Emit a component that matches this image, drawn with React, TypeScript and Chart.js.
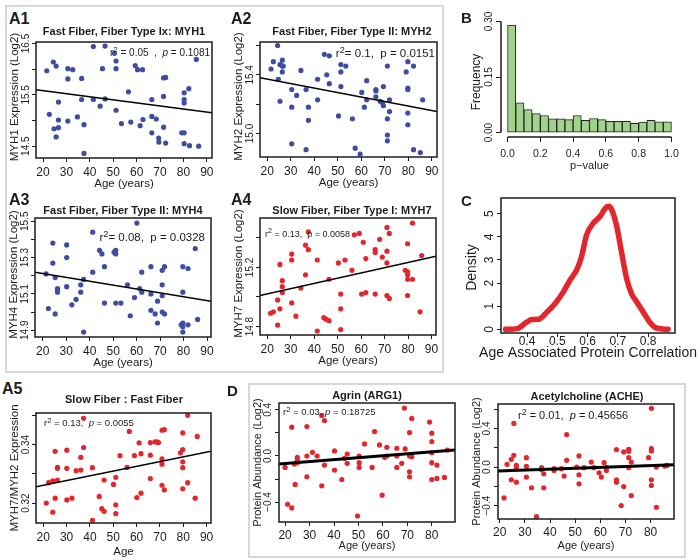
import React, { useEffect, useRef } from 'react';
import { Chart, registerables } from 'chart.js';

Chart.register(...registerables);

const FONT = '"Liberation Sans", Arial, Helvetica, sans-serif';
Chart.defaults.font.family = FONT;
const INK = '#1c1c1c';
const BLUE = '#3d4ea0';
const RED = '#e2262c';
const GREEN = '#a2d38c';

// ---------------- data ----------------
const A_X_TICKS = [20, 30, 40, 50, 60, 70, 80, 90];
const A_X_LABELS = ['20', '30', '40', '50', '60', '70', '80', '90'];
const D_X_TICKS = [20, 30, 40, 50, 60, 70, 80];
const D_X_LABELS = ['20', '30', '40', '50', '60', '70', '80'];

// A1 MYH1
const A1_AGE = [21.6,22.7,24.4,25.6,24.7,25.6,26.6,26.6,26.6,30.6,30.6,32.7,30.6,34.7,36.5,36.5,37.5,37.5,41.5,41.5,44.4,45.4,46.5,46.5,50.5,51.2,51.2,51.2,53.5,56.5,57.5,59.4,60.4,61.5,62.5,62.7,66.5,66.5,66.5,68.4,69.4,69.5,71.5,71.5,71.5,72.4,72.4,79.3,80.3,80.3,80.3,80.3,80.3,82.3,82.6,85.5,86.5];
const A1_MYH1 = [15.97,15.12,16.14,16.06,14.84,14.68,15.36,15.01,14.86,16.01,15.81,15.99,14.99,15.07,15.82,15.41,14.92,14.36,16.44,15.41,15.28,16.01,16.45,15.42,16.31,16.16,16.01,15.20,14.94,15.56,14.97,16.07,15.99,14.90,15.99,15.02,15.41,15.08,14.76,15.03,14.66,14.58,15.83,15.47,14.87,15.84,14.56,14.76,14.76,15.54,15.41,15.34,14.55,15.62,14.51,16.19,14.50];
const A1_FIT_AGE = [17, 92.2];
const A1_FIT = [15.60, 15.15];
const A1_Y_TICKS = [14.5, 15, 15.5, 16, 16.5];
const A1_Y_LABELS = ['14.5', '', '15.5', '', '16.5'];

// A2 MYH2
const A2_AGE = [21.6,22.6,24.4,24.7,25.4,25.4,26.4,26.4,26.4,26.8,30.4,30.4,30.4,32.5,34.3,36.5,36.5,37.5,37.5,41.4,41.4,44.3,45.3,46.4,46.4,50.3,51.3,51.3,51.3,53.4,56.2,57.4,59.5,60.2,61.3,62.3,62.3,66.2,66.2,66.2,68.0,69.0,69.4,69.4,71.1,71.1,71.1,71.1,72.0,72.0,79.1,79.8,79.8,79.8,79.8,79.8,82.2,82.2,85.1,86.1];
const A2_MYH2 = [15.44,15.49,15.60,15.37,15.22,15.47,15.46,15.50,15.42,15.46,15.30,15.18,14.93,15.26,15.43,15.30,14.89,15.18,15.09,15.37,15.23,15.54,15.40,15.53,15.34,15.12,15.47,15.42,15.32,15.46,15.10,14.90,14.86,15.28,15.18,15.23,15.36,15.30,15.29,15.25,15.22,15.21,15.32,15.19,15.46,15.10,14.99,14.95,15.23,15.15,15.42,15.49,15.31,15.30,15.14,15.06,15.46,14.89,14.87,15.23];
const A2_FIT_AGE = [16.9, 92.2];
const A2_FIT = [15.38, 15.15];
const A2_Y_TICKS = [15.0, 15.2, 15.4, 15.6];
const A2_Y_LABELS = ['15.0', '', '15.4', ''];

// A3 MYH4
const A3_AGE = [21.4,22.4,24.3,24.3,25.3,25.3,26.3,26.3,26.3,30.2,30.2,30.2,32.4,34.2,36.2,36.2,37.4,37.4,41.3,41.3,44.2,45.2,46.3,46.3,50.4,51.1,51.1,51.1,53.3,56.1,57.3,59.1,60.1,61.3,62.2,62.2,66.1,66.1,66.1,67.9,68.9,68.9,70.9,70.9,70.9,70.9,71.9,71.9,79.0,79.7,79.7,79.7,79.7,79.7,81.9,81.9,85.0,86.0];
const A3_MYH4 = [15.21,15.02,15.38,15.27,15.19,14.99,15.13,15.12,15.11,15.37,15.30,15.14,15.04,15.07,15.11,15.15,15.18,14.89,15.44,15.22,15.34,15.32,15.25,15.05,15.33,15.34,15.32,15.05,15.05,15.15,14.98,15.08,15.49,15.13,15.22,15.11,15.25,15.10,15.01,14.99,15.06,14.94,15.23,15.15,15.09,15.00,15.25,14.99,14.93,15.25,15.11,14.94,14.92,14.89,15.24,14.93,15.35,14.96];
const A3_FIT_AGE = [16.7, 91.7];
const A3_FIT = [15.22, 15.06];
const A3_Y_TICKS = [14.9, 15.0, 15.1, 15.2, 15.3, 15.4, 15.5];
const A3_Y_LABELS = ['14.9', '', '15.1', '', '15.3', '', '15.5'];

// A4 MYH7
const A4_AGE = [21.4,22.6,24.4,24.4,25.4,25.4,26.4,26.4,26.4,30.4,30.4,30.4,32.2,34.3,36.3,36.3,37.5,37.5,41.3,41.3,44.1,45.0,46.3,46.3,50.3,51.3,51.3,51.3,53.1,56.1,57.1,59.2,60.9,60.2,62.0,62.0,66.0,66.0,66.0,67.9,69.0,71.0,71.0,71.0,71.0,72.0,72.0,78.8,79.8,79.8,79.8,79.8,79.8,81.9,81.9,85.1,85.8];
const A4_MYH7 = [14.89,14.90,14.98,14.81,15.22,14.92,15.11,15.07,15.03,15.29,15.25,14.96,14.87,15.06,15.35,15.15,15.44,15.32,15.25,14.77,14.86,14.85,15.12,14.84,15.23,15.02,14.92,14.78,15.25,15.18,15.42,15.43,15.37,15.02,15.03,15.26,15.32,15.30,15.02,15.39,15.27,15.47,15.31,15.23,15.01,15.43,14.99,15.18,15.17,15.15,15.36,15.12,15.01,15.50,15.12,14.90,15.28];
const A4_FIT_AGE = [16.9, 91.9];
const A4_FIT = [15.01, 15.275];
const A4_Y_TICKS = [14.8, 15.0, 15.2, 15.4];
const A4_Y_LABELS = ['14.8', '', '15.2', ''];

// A5 ratio
const A5_AGE = [21.3,22.3,24.1,24.1,25.1,25.1,26.1,26.1,26.1,30.1,30.1,30.1,32.3,34.1,36.1,36.1,37.3,37.3,41.1,41.1,44.0,45.1,46.1,46.1,50.1,51.1,51.1,51.1,52.9,55.9,56.9,59.1,60.1,61.1,61.9,61.9,65.9,65.9,65.9,67.9,68.9,69.4,70.9,70.9,70.9,70.9,71.9,71.9,78.8,79.8,79.8,79.8,79.8,79.8,81.9,81.9,85.1,86.0];
const A5_RATIO = [0.3200,0.3270,0.3169,0.3276,0.3377,0.3217,0.3279,0.3319,0.3322,0.3381,0.3319,0.3211,0.3217,0.3311,0.3356,0.3313,0.3490,0.3390,0.3321,0.3141,0.3223,0.3181,0.3279,0.3172,0.3264,0.3288,0.3194,0.3164,0.3362,0.3322,0.3445,0.3362,0.3219,0.3406,0.3369,0.3234,0.3407,0.3364,0.3284,0.3409,0.3409,0.3407,0.3449,0.3351,0.3333,0.3261,0.3451,0.3245,0.3372,0.3383,0.3440,0.3341,0.3321,0.3249,0.3500,0.3270,0.3217,0.3428];
const A5_FIT_AGE = [16.9, 91.9];
const A5_FIT = [0.3256, 0.3377];
const A5_Y_TICKS = [0.32, 0.33, 0.34, 0.35];
const A5_Y_LABELS = ['0.32', '', '0.34', ''];

// B histogram of p-values
const P_BIN_MID = [0.025,0.075,0.125,0.175,0.225,0.275,0.325,0.375,0.425,0.475,0.525,0.575,0.625,0.675,0.725,0.775,0.825,0.875,0.925,0.975];
const P_FREQ = [0.290,0.080,0.062,0.051,0.046,0.037,0.037,0.035,0.046,0.033,0.038,0.035,0.030,0.030,0.030,0.025,0.028,0.033,0.029,0.029];
const B_X_TICKS = [0, 0.2, 0.4, 0.6, 0.8, 1.0];
const B_X_LABELS = ['0.0', '0.2', '0.4', '0.6', '0.8', '1.0'];
const B_Y_TICKS = [0, 0.15, 0.30];
const B_Y_LABELS = ['0.00', '0.15', '0.30'];

// C density
const CORR_X = [0.329,0.367,0.400,0.416,0.438,0.466,0.493,0.520,0.542,0.564,0.580,0.597,0.619,0.641,0.658,0.669,0.680,0.696,0.712,0.729,0.745,0.762,0.784,0.805,0.827,0.866];
const CORR_DENSITY = [0,0.03,0.32,0.42,0.43,0.75,1.12,1.62,2.13,2.57,3.14,4.09,4.59,4.88,5.22,5.32,5.17,4.48,3.36,2.20,1.55,1.19,0.75,0.32,0.06,0];
const C_X_TICKS = [0.4, 0.5, 0.6, 0.7, 0.8];
const C_X_LABELS = ['0.4', '0.5', '0.6', '0.7', '0.8'];
const C_Y_TICKS = [0, 1, 2, 3, 4, 5];
const C_Y_LABELS = ['0', '1', '2', '3', '4', '5'];

// D Agrin
const AGRIN_AGE = [20.0,21.0,22.7,22.7,23.8,24.1,25.0,25.0,25.0,28.9,28.9,28.9,31.2,33.1,35.0,35.0,36.1,36.1,40.2,40.2,43.2,44.3,45.4,45.4,49.6,50.3,50.3,50.3,52.5,55.6,56.6,58.6,59.7,60.7,61.6,61.6,65.7,65.7,65.7,67.7,68.8,69.1,70.9,70.9,70.9,70.9,71.8,71.8,79.1,80.0,80.0,80.0,80.0,80.0,82.1,82.1,85.2,86.4];
const AGRIN_ABUND = [-0.099,-0.419,0.250,-0.451,-0.070,-0.247,-0.012,-0.035,-0.058,0.256,0.000,-0.180,0.032,0.000,0.352,-0.259,0.308,-0.079,0.044,-0.122,-0.204,-0.020,0.017,-0.064,-0.521,0.000,-0.058,-0.099,0.105,-0.099,0.212,0.096,-0.340,-0.012,0.076,0.000,0.067,0.000,-0.099,-0.064,0.416,0.061,0.204,0.000,-0.137,-0.180,0.326,-0.006,0.294,0.198,0.125,0.029,-0.058,-0.204,-0.195,-0.079,-0.186,0.052];
const AGRIN_FIT_AGE = [17.5, 89.5];
const AGRIN_FIT = [-0.070, 0.052];
const AGRIN_Y_TICKS = [-0.4, -0.2, 0, 0.2, 0.4];
const AGRIN_Y_LABELS = ['\u22120.4', '', '0.0', '', '0.4'];

// D ACHE
const ACHE_AGE = [21.7,22.9,24.6,24.6,25.6,25.6,26.6,26.6,26.6,30.6,30.6,30.6,32.6,36.6,36.6,37.5,37.5,41.6,41.6,44.5,45.6,46.6,46.6,50.6,51.5,51.5,51.5,53.5,56.4,57.5,59.5,60.4,61.5,62.4,62.4,66.4,66.4,66.4,68.3,69.3,69.3,71.3,71.3,71.3,71.3,72.3,72.3,79.2,80.3,80.3,80.3,80.3,80.3,82.3,82.3,85.6,86.5,34.6];
const ACHE_ABUND = [-0.320,0.028,-0.132,0.080,0.452,0.122,0.017,-0.017,-0.157,0.097,0.007,-0.104,-0.216,-0.007,-0.028,-0.070,-0.216,-0.017,-0.035,-0.017,-0.094,0.337,0.070,0.000,0.115,-0.080,-0.174,-0.007,0.052,-0.007,-0.059,-0.104,0.045,-0.035,-0.007,0.181,-0.132,-0.157,-0.400,0.157,-0.202,0.184,0.163,0.097,-0.007,0.052,-0.296,0.097,0.609,0.191,0.167,-0.132,-0.191,0.000,-0.417,0.010,0.017,-0.515];
const ACHE_FIT_AGE = [19.3, 89.3];
const ACHE_FIT = [-0.042, 0.024];
const ACHE_Y_TICKS = [-0.4, -0.2, 0, 0.2, 0.4, 0.6];
const ACHE_Y_LABELS = ['\u22120.4', '', '0.0', '', '0.4', ''];

// ---------------- layout / style ----------------
const PADL = 45;
const PADT = 15;
const PADB = 42;

type Spec = {
  box: number[];
  xMin: number; xMax: number; yMin: number; yMax: number;
  xTicks: number[]; xLabels: string[]; yTicks: number[]; yLabels: string[];
  xTitle: string; yTitle: string;
  xTickSize: number; yTickSize: number; xTitleSize: number; yTitleSize: number;
  tickLen: number; xPad: number; xTitleDy: number; yTitleDx: number; yTickDx: number; yTitleShift: number;
  boxed: boolean; axisLines: boolean; padR: number;
};

function aSpec(box: number[], xr: number[], yr: number[], yTicks: number[], yLabels: string[], yTitle: string, xTitle: string, over: Partial<Spec> = {}): Spec {
  return {
    box, xMin: xr[0], xMax: xr[1], yMin: yr[0], yMax: yr[1],
    xTicks: A_X_TICKS, xLabels: A_X_LABELS, yTicks, yLabels, xTitle, yTitle,
    xTickSize: 12, yTickSize: 10, xTitleSize: 11.5, yTitleSize: 11.5,
    tickLen: 4, xPad: 3, xTitleDy: 25.5, yTitleDx: 21, yTickDx: 10, yTitleShift: -3,
    boxed: true, axisLines: false, padR: 15,
    ...over,
  };
}

const SPEC_A1 = aSpec([36, 42, 212, 158], [17, 92.2], [14.27, 16.53], A1_Y_TICKS, A1_Y_LABELS, 'MYH1 Expression (Log2)', 'Age (years)');
const SPEC_A2 = aSpec([260, 42, 437, 157], [16.9, 92.2], [14.84, 15.624], A2_Y_TICKS, A2_Y_LABELS, 'MYH2 Expression (Log2)', 'Age (years)');
const SPEC_A3 = aSpec([35, 218, 211, 337], [16.7, 91.7], [14.863, 15.518], A3_Y_TICKS, A3_Y_LABELS, 'MYH4 Expression (Log2)', 'Age (years)');
const SPEC_A4 = aSpec([260, 218, 436, 335], [16.9, 91.9], [14.743, 15.534], A4_Y_TICKS, A4_Y_LABELS, 'MYH7 Expression (Log2)', 'Age (years)');
const SPEC_A5 = aSpec([36, 413, 211, 523], [16.9, 91.9], [0.3132, 0.3508], A5_Y_TICKS, A5_Y_LABELS, 'MYH7/MYH2 Expression', 'Age', { xTitleDy: 29, yTitleShift: 0 });
const SPEC_AGRIN = aSpec([279, 403, 455, 522], [17.5, 89.5], [-0.573, 0.46], AGRIN_Y_TICKS, AGRIN_Y_LABELS, 'Protein Abundance (Log2)', 'Age (years)', { xTicks: D_X_TICKS, xLabels: D_X_LABELS, xPad: 2, xTitleDy: 24, xTitleSize: 11, yTitleSize: 11, yTickDx: 11, yTitleShift: 0 });
const SPEC_ACHE = aSpec([498, 404, 674, 519], [19.3, 89.3], [-0.539, 0.654], ACHE_Y_TICKS, ACHE_Y_LABELS, 'Protein Abundance (Log2)', 'Age (years)', { xTicks: D_X_TICKS, xLabels: D_X_LABELS, xPad: 2, xTitleDy: 27, xTitleSize: 11, yTitleSize: 11, yTickDx: 11, yTitleShift: 0 });
const SPEC_B = aSpec([501, 17, 678, 137], [-0.04, 1.04], [-0.012, 0.312], B_Y_TICKS, B_Y_LABELS, 'Frequency', 'p\u2212value', {
  xTicks: B_X_TICKS, xLabels: B_X_LABELS, xTickSize: 10.5, yTickSize: 10, xTitleSize: 11, yTitleSize: 12,
  tickLen: 5, xPad: 6, xTitleDy: 29, yTitleDx: 24, yTickDx: 12, yTitleShift: 5, boxed: false, axisLines: true,
});
const SPEC_C = aSpec([501, 198, 675, 333], [0.314, 0.889], [-0.16, 5.68], C_Y_TICKS, C_Y_LABELS, 'Density', 'Age Associated Protein Correlation', {
  xTicks: C_X_TICKS, xLabels: C_X_LABELS, xTickSize: 12, yTickSize: 12, xTitleSize: 14, yTitleSize: 14,
  tickLen: 4, xPad: -3, xTitleDy: 20, yTitleDx: 29, yTickDx: 11, yTitleShift: 2, padR: 25,
});

function rPlugin(spec: Spec) {
  return {
    id: 'rAxes',
    afterDraw(chart: any) {
      const { ctx, chartArea: a } = chart;
      const xs = chart.scales.x;
      const ys = chart.scales.y;
      ctx.save();
      ctx.strokeStyle = INK;
      if (spec.boxed) {
        ctx.lineWidth = 1.5;
        ctx.strokeRect(a.left, a.top, a.right - a.left, a.bottom - a.top);
      }
      if (spec.axisLines) {
        ctx.lineWidth = 1.5;
        const xt = xs.ticks;
        const yt = ys.ticks;
        ctx.beginPath();
        ctx.moveTo(xs.getPixelForValue(xt[0].value), a.bottom);
        ctx.lineTo(xs.getPixelForValue(xt[xt.length - 1].value), a.bottom);
        ctx.moveTo(a.left, ys.getPixelForValue(yt[0].value));
        ctx.lineTo(a.left, ys.getPixelForValue(yt[yt.length - 1].value));
        ctx.stroke();
      }
      ctx.fillStyle = INK;
      ctx.textAlign = 'center';
      ctx.textBaseline = 'middle';
      ctx.font = `${spec.yTickSize}px ${FONT}`;
      ys.ticks.forEach((t: any) => {
        if (!t.label) return;
        const py = ys.getPixelForValue(t.value);
        ctx.save();
        ctx.translate(a.left - spec.yTickDx, py);
        ctx.rotate(-Math.PI / 2);
        ctx.fillText(String(t.label), 0, 0);
        ctx.restore();
      });
      ctx.font = `${spec.yTitleSize}px ${FONT}`;
      ctx.save();
      ctx.translate(a.left - spec.yTitleDx, (a.top + a.bottom) / 2 + spec.yTitleShift);
      ctx.rotate(-Math.PI / 2);
      ctx.fillText(spec.yTitle, 0, 0);
      ctx.restore();
      ctx.font = `${spec.xTitleSize}px ${FONT}`;
      ctx.fillText(spec.xTitle, (a.left + a.right) / 2, a.bottom + spec.xTitleDy);
      ctx.restore();
    },
  };
}

function makeConfig(spec: Spec, type: string, datasets: any[]): any {
  const grid = { display: true, drawOnChartArea: false, drawTicks: true, tickLength: spec.tickLen, color: INK, lineWidth: 1, offset: false };
  return {
    type,
    data: { datasets },
    options: {
      animation: false,
      responsive: false,
      maintainAspectRatio: false,
      events: [],
      layout: { padding: { left: 0, top: PADT, right: spec.padR, bottom: 0 } },
      plugins: { legend: { display: false }, tooltip: { enabled: false }, title: { display: false } },
      scales: {
        x: {
          type: 'linear', position: 'bottom', min: spec.xMin, max: spec.xMax, bounds: 'data', offset: false,
          afterBuildTicks: (s: any) => { s.ticks = spec.xTicks.map((v) => ({ value: v })); },
          afterFit: (s: any) => { s.height = PADB; },
          ticks: {
            autoSkip: false, maxRotation: 0, minRotation: 0, padding: spec.xPad, color: INK,
            font: { family: FONT, size: spec.xTickSize },
            callback: (_v: any, i: number) => spec.xLabels[i],
          },
          grid,
          border: { display: false },
          title: { display: false },
        },
        y: {
          type: 'linear', position: 'left', min: spec.yMin, max: spec.yMax, bounds: 'data',
          afterBuildTicks: (s: any) => { s.ticks = spec.yTicks.map((v) => ({ value: v })); },
          afterFit: (s: any) => { s.width = PADL; },
          ticks: { display: false, callback: (_v: any, i: number) => spec.yLabels[i] },
          grid,
          border: { display: false },
          title: { display: false },
        },
      },
    },
    plugins: [rPlugin(spec)],
  };
}

function scatterSets(ages: number[], vals: number[], color: string, fitAge: number[], fit: number[], fitWidth: number) {
  return [
    {
      type: 'line',
      data: fitAge.map((x, i) => ({ x, y: fit[i] })),
      borderColor: '#000', borderWidth: fitWidth, pointRadius: 0, fill: false, order: 0,
    },
    {
      type: 'scatter',
      data: ages.map((x, i) => ({ x, y: vals[i] })),
      backgroundColor: color, borderWidth: 0, pointRadius: 2.6, order: 1,
    },
  ];
}

function ChartCanvas({ spec, type, datasets }: { spec: Spec; type: string; datasets: any[] }) {
  const ref = useRef<HTMLCanvasElement>(null);
  const [x0, y0, x1, y1] = spec.box;
  const left = x0 - PADL;
  const top = y0 - PADT;
  const width = x1 - x0 + PADL + spec.padR;
  const height = y1 - y0 + PADT + PADB;
  useEffect(() => {
    const chart = new Chart(ref.current as HTMLCanvasElement, makeConfig(spec, type, datasets));
    return () => chart.destroy();
  }, []);
  return <canvas ref={ref} width={width} height={height} style={{ position: 'absolute', left, top, width, height }} />;
}

function T({ x, y, size, bold = false, align = 'left', w = 300, children }: any) {
  const style: any = {
    position: 'absolute', top: y - size / 2, fontSize: size, lineHeight: `${size}px`, fontFamily: FONT,
    color: INK, fontWeight: bold ? 700 : 400, whiteSpace: 'pre',
  };
  if (align === 'center') { style.left = x - w / 2; style.width = w; style.textAlign = 'center'; }
  else if (align === 'right') { style.right = 700 - x; style.textAlign = 'right'; }
  else style.left = x;
  return <div style={style}>{children}</div>;
}

const Sup = ({ children }: any) => (
  <span style={{ fontSize: '0.8em', position: 'relative', top: '-0.45em' }}>{children}</span>
);

export default function App() {
  return (
    <div style={{ position: 'absolute', left: 0, top: 0, width: 700, height: 560, overflow: 'hidden', background: '#fff' }}>
      <div style={{ position: 'absolute', left: 5, top: 5, width: 439, height: 368, border: '2px solid #d8d8d8', boxSizing: 'border-box' }} />
      <div style={{ position: 'absolute', left: 248, top: 383, width: 438, height: 175, border: '2px solid #d8d8d8', boxSizing: 'border-box' }} />

      <ChartCanvas spec={SPEC_A1} type="scatter" datasets={scatterSets(A1_AGE, A1_MYH1, BLUE, A1_FIT_AGE, A1_FIT, 1.5)} />
      <ChartCanvas spec={SPEC_A2} type="scatter" datasets={scatterSets(A2_AGE, A2_MYH2, BLUE, A2_FIT_AGE, A2_FIT, 1.5)} />
      <ChartCanvas spec={SPEC_A3} type="scatter" datasets={scatterSets(A3_AGE, A3_MYH4, BLUE, A3_FIT_AGE, A3_FIT, 1.5)} />
      <ChartCanvas spec={SPEC_A4} type="scatter" datasets={scatterSets(A4_AGE, A4_MYH7, RED, A4_FIT_AGE, A4_FIT, 1.5)} />
      <ChartCanvas spec={SPEC_A5} type="scatter" datasets={scatterSets(A5_AGE, A5_RATIO, RED, A5_FIT_AGE, A5_FIT, 1.5)} />
      <ChartCanvas spec={SPEC_AGRIN} type="scatter" datasets={scatterSets(AGRIN_AGE, AGRIN_ABUND, RED, AGRIN_FIT_AGE, AGRIN_FIT, 3)} />
      <ChartCanvas spec={SPEC_ACHE} type="scatter" datasets={scatterSets(ACHE_AGE, ACHE_ABUND, RED, ACHE_FIT_AGE, ACHE_FIT, 3)} />
      <ChartCanvas
        spec={SPEC_B}
        type="bar"
        datasets={[{
          type: 'bar',
          data: P_BIN_MID.map((x, i) => ({ x, y: P_FREQ[i] })),
          backgroundColor: GREEN, borderColor: '#222', borderWidth: 1, borderSkipped: false,
          barPercentage: 1, categoryPercentage: 1, grouped: false,
        }]}
      />
      <ChartCanvas
        spec={SPEC_C}
        type="line"
        datasets={[{
          type: 'line',
          data: CORR_X.map((x, i) => ({ x, y: CORR_DENSITY[i] })),
          borderColor: RED, borderWidth: 5.5, pointRadius: 0, fill: false,
          cubicInterpolationMode: 'monotone', borderCapStyle: 'round', borderJoinStyle: 'round',
        }]}
      />

      <T x={9} y={18.5} size={16} bold>A1</T>
      <T x={231} y={18.5} size={16} bold>A2</T>
      <T x={461} y={17} size={15} bold>B</T>
      <T x={9} y={200} size={16} bold>A3</T>
      <T x={231} y={199.5} size={16} bold>A4</T>
      <T x={461} y={200} size={15} bold>C</T>
      <T x={2} y={389} size={16} bold>A5</T>
      <T x={227} y={390} size={15} bold>D</T>

      <T x={124} y={31} size={11} bold align="center">Fast Fiber, Fiber Type Ix: MYH1</T>
      <T x={352} y={31} size={11} bold align="center">Fast Fiber, Fiber Type II: MYH2</T>
      <T x={123} y={210} size={11} bold align="center">Fast Fiber, Fiber Type II: MYH4</T>
      <T x={352} y={210} size={11} bold align="center">Slow Fiber, Fiber Type I: MYH7</T>
      <T x={124} y={399} size={11} bold align="center">Slow Fiber : Fast Fiber</T>
      <T x={367} y={395} size={11} bold align="center">Agrin (ARG1)</T>
      <T x={587} y={396} size={11} bold align="center">Acetylcholine (ACHE)</T>

      <T x={210} y={53} size={10} align="right">r<Sup>2</Sup> = 0.05  ,  <i>p</i> = 0.1081</T>
      <T x={435} y={54} size={11.5} align="right">r<Sup>2</Sup>= 0.1,  p = 0.0151</T>
      <T x={205} y={238} size={11.5} align="right">r<Sup>2</Sup>= 0.08,  p = 0.0328</T>
      <T x={265} y={234} size={9} align="left">r<Sup>2</Sup> = 0.13,  p = 0.0058</T>
      <T x={44} y={423} size={9.5} align="left">r<Sup>2</Sup> = 0.13,  <i>p</i> = 0.0055</T>
      <T x={283} y={412} size={9.5} align="left">r<Sup>2</Sup> = 0.03, <i>p</i> = 0.18725</T>
      <T x={518} y={415} size={11} align="left">r<Sup>2</Sup> = 0.01,  <i>p</i> = 0.45656</T>
    </div>
  );
}
